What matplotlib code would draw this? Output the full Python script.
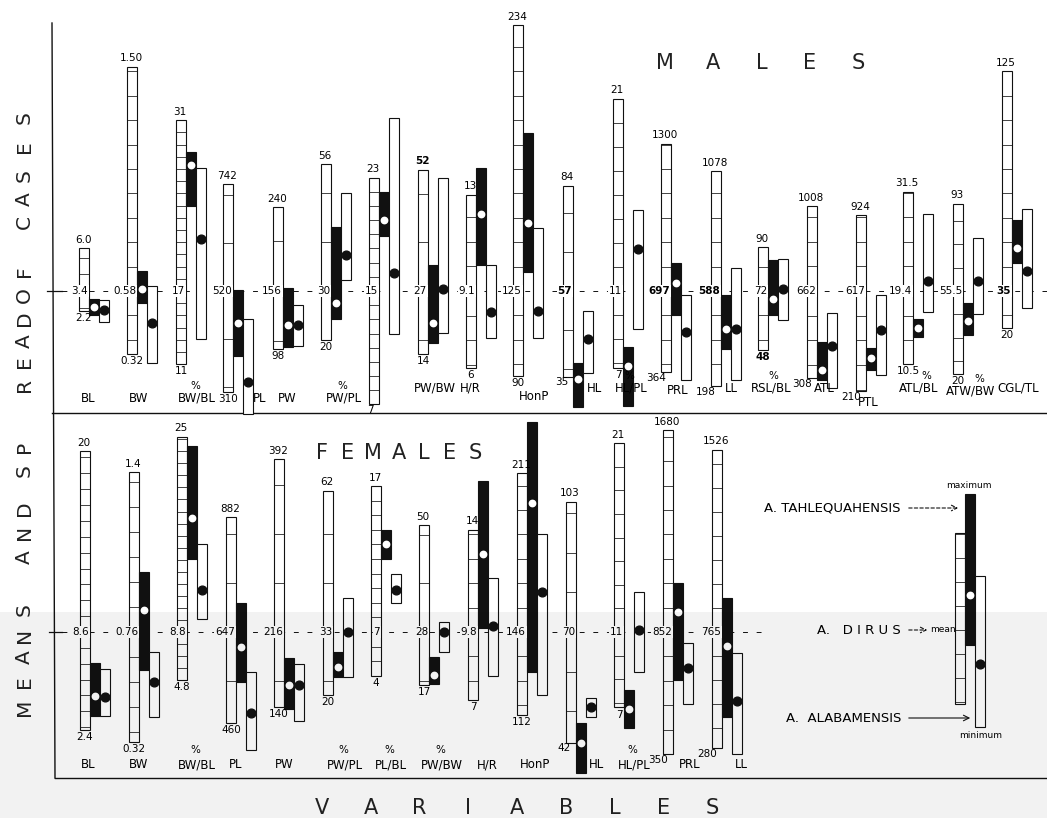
import numpy as np
import matplotlib
matplotlib.use("Agg")
import matplotlib.pyplot as plt
from matplotlib.patches import Rectangle
from matplotlib.transforms import Affine2D

# ---- males: A. dirus range (labelled), A. tahlequahensis and A. alabamensis ranges
names_m = ['BL', 'BW', 'BW/BL', 'PL', 'PW', 'PW/PL', 'PL/BL', 'PW/BW', 'H/R', 'HonP',
           'HL', 'HL/PL', 'PRL', 'LL', 'RSL/BL', 'ATL', 'PTL', 'ATL/BL', 'ATW/BW', 'CGL/TL']
shown_m = [True] * 20
shown_m[6] = False          # PL/BL name is lost under its bar in the males row
pct_m = ['BW/BL', 'PW/PL', 'HL/PL', 'RSL/BL', 'ATL/BL', 'ATW/BW']

dir_min_m = ['2.2', '0.32', '11', '310', '98', '20', '7', '14', '6', '90',
             '35', '7', '364', '198', '48', '308', '210', '10.5', '20', '20']
dir_mean_m = ['3.4', '0.58', '17', '520', '156', '30', '15', '27', '9.1', '125',
              '57', '11', '697', '588', '72', '662', '617', '19.4', '55.5', '35']
dir_max_m = ['6.0', '1.50', '31', '742', '240', '56', '23', '52', '13', '234',
             '84', '21', '1300', '1078', '90', '1008', '924', '31.5', '93', '125']
unit_m = [0.0606, 0.0041, 0.082, 2.08, 1.0, 0.205, 0.0705, 0.206, 0.0405, 0.41,
          0.257, 0.052, 4.1, 4.1, 0.41, 4.07, 4.05, 0.122, 0.43, 0.41]
step_m = [1, 0.1, 1, 100, 50, 10, 1, 10, 1, 10, 10, 1.25, 100, 100, 10, 100, 100, 3, 10, 10]

tah_lo_m = [1.95, 0.53, 24.0, 385, 100, 24.3, 18.9, 16.3, 10.15, 132.8,
            27.2, 5.0, 599, 350, 62.2, 300, 297, 13.8, 36.6, 46.5]
tah_mean_m = [2.43, 0.59, 27.3, 453, 122, 27.5, 20.0, 20.4, 12.2, 152.9,
              34.4, 7.1, 730, 432, 68.7, 340, 346, 14.9, 42.8, 52.6]
tah_hi_m = [2.92, 0.66, 28.4, 522, 159, 43.1, 22.0, 32.4, 14.1, 189.8,
            38.5, 8.1, 812, 572, 84.7, 454, 386, 16.0, 50.2, 64.1]
alab_lo_m = [1.52, 0.285, 13.1, 264, 101, 32.3, 12.0, 18.3, 7.2, 105.7,
             35.9, 9.0, 332, 223, 60.1, 267, 277, 16.8, 45.7, 28.0]
alab_mean_m = [2.25, 0.45, 21.3, 331, 122, 37.4, 16.3, 27.4, 8.25, 116.8,
               44.7, 13.2, 529, 432, 72.8, 438, 459, 20.6, 59.6, 43.2]
alab_hi_m = [2.85, 0.60, 27.1, 462, 142, 50.1, 27.2, 50.3, 10.15, 150.8,
             51.9, 15.2, 681, 682, 85.1, 572, 601, 28.8, 78.1, 68.6]

# ---- females
names_f = ['BL', 'BW', 'BW/BL', 'PL', 'PW', 'PW/PL', 'PL/BL', 'PW/BW', 'H/R', 'HonP',
           'HL', 'HL/PL', 'PRL', 'LL']
pct_f = ['BW/BL', 'PW/PL', 'PL/BL', 'PW/BW', 'HL/PL']

dir_min_f = ['2.4', '0.32', '4.8', '460', '140', '20', '4', '17', '7', '112', '42', '7', '350', '280']
dir_mean_f = ['8.6', '0.76', '8.8', '647', '216', '33', '7', '28', '9.8', '146', '70', '11', '852', '765']
dir_max_f = ['20', '1.4', '25', '882', '392', '62', '17', '50', '14', '211', '103', '21', '1680', '1526']
unit_f = [0.063, 0.004, 0.083, 2.05, 1.02, 0.205, 0.0685, 0.206, 0.041, 0.41, 0.253, 0.053, 4.1, 4.17]
step_f = [1, 0.1, 1, 100, 50, 10, 1, 10, 1, 10, 10, 1.25, 100, 100]

tah_lo_f = [3.31, 0.61, 14.9, 544, 137.5, 23.8, 12.0, 17.3, 9.96, 129.6, 34.3, 5.9, 655, 411]
tah_mean_f = [4.57, 0.85, 18.3, 616, 162, 25.8, 13.0, 19.1, 13.0, 198.9, 41.9, 6.9, 934, 707]
tah_hi_f = [6.65, 1.0, 24.2, 706, 189.5, 28.9, 14.0, 22.85, 16.0, 232.1, 47.0, 7.9, 1053, 907]
alab_lo_f = [3.31, 0.42, 9.9, 405, 125.2, 23.8, 9.0, 23.9, 8.0, 120.2, 48.5, 8.9, 557, 256]
alab_mean_f = [4.5, 0.56, 12.3, 481, 162, 33.0, 9.9, 28.0, 10.05, 162.4, 51.0, 11.1, 704, 477]
alab_hi_f = [6.27, 0.68, 16.1, 565, 183.4, 40.0, 11.0, 30.1, 12.0, 186.2, 53.3, 13.1, 807, 677]

# key: an illustrative triplet in plain units around the mean line
key_dirus = (-74, 0, 97)
key_tah = (-15, 35, 136)
key_alab = (-97, -34, 54)

# ---- layout (page units, y grows downward)
W = 10
INK = '#111111'
NUM = 7.5
base_m, base_f = 291, 632
x_m = [79, 127, 176, 223, 273, 321, 369, 418, 466, 513, 563, 613, 661, 711, 758, 807, 856, 903, 953, 1002]
lab_x_m = [88, 139, 197, 260, 287, 344, 0, 435, 470, 534, 594, 631, 678, 731, 771, 824, 868, 919, 971, 1018]
lab_y_m = [398] * 6 + [388] * 14
lab_y_m[9] = 396
lab_y_m[12] = 391
lab_y_m[16] = 403
lab_y_m[18] = 391
pct_dx = {'ATL/BL': 7, 'ATW/BW': 8, 'RSL/BL': 2}
side_min_m = {6, 10, 12, 13, 15, 16}
bold_m = {'mean': {10, 12, 13, 19}, 'max': {7}, 'min': {14}}

x_f = [80, 129, 177, 226, 274, 323, 371, 419, 468, 517, 566, 614, 663, 712]
lab_x_f = [88, 139, 197, 236, 284, 345, 391, 442, 487, 535, 596, 634, 690, 741]
lab_y_f = 765
side_min_f = {10, 12, 13}

fig = plt.figure(figsize=(10.47, 8.18), dpi=100)
ax = fig.add_axes([0, 0, 1, 1])
ax.set_xlim(0, 1047)
ax.set_ylim(818, 0)
ax.axis('off')


def triplet(x, base, unit, step, d, t, a):
    lo, mu, hi = d
    tr = Affine2D().translate(0, -mu).scale(1, -1.0 / unit).translate(0, base) + ax.transData
    ax.add_patch(Rectangle((x, lo), W, hi - lo, transform=tr, fc='white', ec=INK, lw=0.8, zorder=3))
    for k in range(int(np.ceil((lo - mu) / step)), int(np.floor((hi - mu) / step)) + 1):
        v = mu + k * step
        if lo < v < hi:
            ax.plot([x, x + W], [v, v], transform=tr, color=INK, lw=0.55, zorder=3)
    ax.add_patch(Rectangle((x + W, t[0]), W, t[2] - t[0], transform=tr, fc=INK, ec=INK, lw=0.8, zorder=3))
    ax.plot(x + 1.5 * W, t[1], 'o', ms=4.6, mfc='white', mec='white', transform=tr, zorder=4)
    ax.add_patch(Rectangle((x + 2 * W, a[0]), W, a[2] - a[0], transform=tr, fc='white', ec=INK, lw=0.8, zorder=3))
    ax.plot(x + 2.5 * W, a[1], 'o', ms=6.3, color=INK, transform=tr, zorder=4)
    return tr


def panel(base, xs, mins, means, maxs, units, steps, tl, tm, th, al, am, ah, side, bold):
    for i in range(len(xs)):
        x = xs[i]
        d = (float(mins[i]), float(means[i]), float(maxs[i]))
        tr = triplet(x, base, units[i], steps[i], d, (tl[i], tm[i], th[i]), (al[i], am[i], ah[i]))
        xc = x + W / 2
        wt = lambda kind: 'bold' if i in bold.get(kind, ()) else 'normal'
        ax.annotate(maxs[i], (xc - 1, d[2]), xycoords=tr, xytext=(0, 2.5), textcoords='offset points',
                    ha='center', va='bottom', fontsize=NUM, fontweight=wt('max'), zorder=5)
        if i in side:
            ax.annotate(mins[i], (x + 5, d[0]), xycoords=tr, xytext=(0, -4), textcoords='offset points',
                        ha='right', va='center', fontsize=NUM, fontweight=wt('min'), zorder=5)
        else:
            ax.annotate(mins[i], (xc, d[0]), xycoords=tr, xytext=(0, -1.5), textcoords='offset points',
                        ha='center', va='top', fontsize=NUM, fontweight=wt('min'), zorder=5)
        ax.text(x + W - 1, base, means[i], ha='right', va='center', fontsize=NUM, fontweight=wt('mean'),
                bbox=dict(fc='white', ec='none', pad=0.6), zorder=5)


# frame, mean lines and left ticks
ax.plot([52, 55], [23, 778], color=INK, lw=1.0, zorder=2)
ax.plot([52, 1047], [413, 413], color=INK, lw=1.0, zorder=2)
ax.plot([55, 1047], [778, 778], color=INK, lw=1.0, zorder=2)
ax.plot([62, 1047], [base_m, base_m], color=INK, lw=0.7, ls=(0, (5, 9)), zorder=1)
ax.plot([62, 765], [base_f, base_f], color=INK, lw=0.7, ls=(0, (5, 9)), zorder=1)
ax.plot([47, 62], [base_m, base_m], color=INK, lw=0.9, zorder=2)
ax.plot([49, 62], [base_f, base_f], color=INK, lw=0.9, zorder=2)

panel(base_m, x_m, dir_min_m, dir_mean_m, dir_max_m, unit_m, step_m,
      tah_lo_m, tah_mean_m, tah_hi_m, alab_lo_m, alab_mean_m, alab_hi_m, side_min_m, bold_m)
panel(base_f, x_f, dir_min_f, dir_mean_f, dir_max_f, unit_f, step_f,
      tah_lo_f, tah_mean_f, tah_hi_f, alab_lo_f, alab_mean_f, alab_hi_f, side_min_f, {})

# variable names under each group
for name, show, lx, ly in zip(names_m, shown_m, lab_x_m, lab_y_m):
    if not show:
        continue
    ax.text(lx, ly, name, ha='center', va='center', fontsize=8.5, zorder=5)
    if name in pct_m:
        ax.text(lx + pct_dx.get(name, -2), ly - 12, '%', ha='center', va='center', fontsize=7.5, zorder=5)
for name, lx in zip(names_f, lab_x_f):
    ax.text(lx, lab_y_f, name, ha='center', va='center', fontsize=8.5, zorder=5)
    if name in pct_f:
        ax.text(lx - 2, lab_y_f - 15, '%', ha='center', va='center', fontsize=7.5, zorder=5)

# spaced headings
for i, ch in enumerate('MALES'):
    ax.text(665 + 48.2 * i, 63, ch, ha='center', va='center', fontsize=15, color='#222222')
for i, ch in enumerate('FEMALES'):
    ax.text(322 + 25.5 * i, 453, ch, ha='center', va='center', fontsize=15, color='#222222')
for i, ch in enumerate('VARIABLES'):
    ax.text(322 + 48.75 * i, 808, ch, ha='center', va='center', fontsize=15, color='#222222')
ylab_y = [707, 682, 657, 635, 610, 557, 532, 508, 471, 447, 385, 362, 341, 318,
          295, 271, 222, 199, 176, 147, 118]
for ch, yy in zip('MEANSANDSPREADOFCASES', ylab_y):
    ax.text(24, yy, ch, ha='center', va='center', rotation=90, fontsize=14.5, color='#222222')

# key
triplet(955, 630, 1.0, 24, key_dirus, key_tah, key_alab)
ax.text(969, 485, 'maximum', ha='center', va='center', fontsize=6.5)
ax.text(981, 735, 'minimum', ha='center', va='center', fontsize=6.5)
ax.text(901, 508, 'A. TAHLEQUAHENSIS', ha='right', va='center', fontsize=9.5)
ax.text(901, 630, 'A.   D I R U S', ha='right', va='center', fontsize=9.5)
ax.text(901, 718, 'A.  ALABAMENSIS', ha='right', va='center', fontsize=9.5)
ax.text(930, 629, 'mean', ha='left', va='center', fontsize=6.5)
ax.annotate('', xy=(961, 508), xytext=(906, 508),
            arrowprops=dict(arrowstyle='->', lw=0.8, ls=(0, (3, 2)), color=INK))
ax.annotate('', xy=(930, 630), xytext=(906, 630),
            arrowprops=dict(arrowstyle='->', lw=0.8, ls=(0, (3, 2)), color=INK))
ax.annotate('', xy=(973, 718), xytext=(906, 718),
            arrowprops=dict(arrowstyle='->', lw=0.8, color=INK))

# faint grey cast over the lower strip of the sheet
ax.add_patch(Rectangle((0, 612), 1047, 206, fc='k', ec='none', alpha=0.05, zorder=10))

fig.savefig('out.png', dpi=100)
